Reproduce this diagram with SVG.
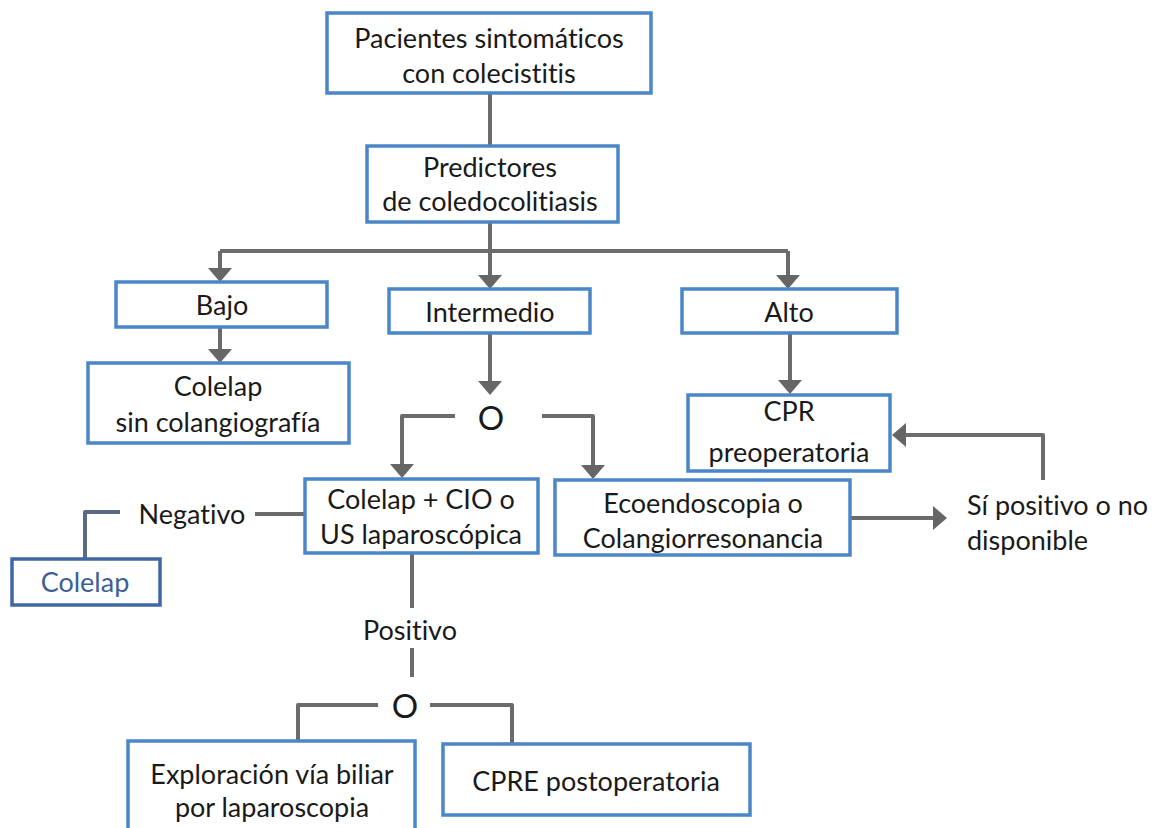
<svg xmlns="http://www.w3.org/2000/svg" width="1152" height="828" viewBox="0 0 1152 828">
<style>
.box{fill:#fff;stroke:#4a86c8;stroke-width:3.5}
.box2{fill:#fff;stroke:#3f67a0;stroke-width:3.5}
text{font-family:Lato,"Open Sans","Liberation Sans",sans-serif;font-size:27px;dominant-baseline:central;font-variant-ligatures:none;font-feature-settings:"liga" 0,"clig" 0}
.t{fill:#1a1a1a;text-anchor:middle}
.tl{fill:#1a1a1a}
.tb{fill:#3e5f96;text-anchor:middle}
.o{font-size:33px}
.c{fill:none;stroke:#6b6b6b;stroke-width:4;stroke-linejoin:round}
.cb{fill:none;stroke:#5a6a85;stroke-width:4;stroke-linejoin:round}
</style>
<defs>
<marker id="arr" viewBox="0 0 14 24" markerWidth="14" markerHeight="24" refX="4" refY="12" orient="auto" markerUnits="userSpaceOnUse">
<path d="M0,0 L14,12 L0,24 Z" fill="#666"/>
</marker>
</defs>
<rect width="1152" height="828" fill="#fff"/>
<g id="connectors">
<path class="c" d="M490,93 V146"/>
<path class="c" d="M490,222 V251"/>
<path class="c" d="M220,251 H788" />
<path class="c" d="M220,251 V272" marker-end="url(#arr)"/>
<path class="c" d="M490,251 V279" marker-end="url(#arr)"/>
<path class="c" d="M788,251 V279" marker-end="url(#arr)"/>
<path class="c" d="M220,327 V353" marker-end="url(#arr)"/>
<path class="c" d="M490,333 V385" marker-end="url(#arr)"/>
<path class="c" d="M790,333 V384" marker-end="url(#arr)"/>
<path class="c" d="M455,416 H402 V468" marker-end="url(#arr)"/>
<path class="c" d="M542,416 H593 V469" marker-end="url(#arr)"/>
<path class="c" d="M850,518 H937" marker-end="url(#arr)"/>
<path class="c" d="M1043,480 V435 H902" marker-end="url(#arr)"/>
<path class="c" d="M255,514 H305"/>
<path class="cb" d="M120,512 H85 V558"/>
<path class="c" d="M412,553 V608"/>
<path class="c" d="M412,648 V677"/>
<path class="c" d="M378,705 H298 V741"/>
<path class="c" d="M430,705 H512 V744"/>
</g>
<g id="n1"><rect class="box" x="327" y="13" width="324" height="80"/>
<text class="t" x="489" y="37">Pacientes sintomáticos</text><text class="t" x="489" y="72">con colecistitis</text></g>
<g id="n2"><rect class="box" x="367" y="146" width="251" height="76"/>
<text class="t" x="490" y="166">Predictores</text><text class="t" x="490" y="200">de coledocolitiasis</text></g>
<g id="bajo"><rect class="box" x="116" y="282" width="211" height="45"/>
<text class="t" x="222" y="304">Bajo</text></g>
<g id="intermedio"><rect class="box" x="389" y="289" width="201" height="44"/>
<text class="t" x="490" y="311">Intermedio</text></g>
<g id="alto"><rect class="box" x="682" y="289" width="215" height="44"/>
<text class="t" x="789" y="311">Alto</text></g>
<g id="colelapsin"><rect class="box" x="88" y="363" width="261" height="80"/>
<text class="t" x="218" y="385">Colelap</text><text class="t" x="218" y="421">sin colangiografía</text></g>
<g id="o1"><text class="t o" x="491" y="417">O</text></g>
<g id="cpr"><rect class="box" x="688" y="395" width="202" height="76"/>
<text class="t" x="789" y="410">CPR</text><text class="t" x="789" y="451">preoperatoria</text></g>
<g id="colelapcio"><rect class="box" x="305" y="479" width="233" height="74"/>
<text class="t" x="421" y="498">Colelap + CIO o</text><text class="t" x="421" y="533">US laparoscópica</text></g>
<g id="eco"><rect class="box" x="555" y="480" width="295" height="75"/>
<text class="t" x="703" y="502">Ecoendoscopia o</text><text class="t" x="703" y="537">Colangiorresonancia</text></g>
<g id="sipos"><text class="tl" x="967" y="504">Sí positivo o no</text><text class="tl" x="967" y="539">disponible</text></g>
<g id="negativo"><text class="t" x="192" y="513">Negativo</text></g>
<g id="colelap"><rect class="box2" x="12" y="559" width="148" height="46"/>
<text class="tb" x="85" y="581">Colelap</text></g>
<g id="positivo"><text class="t" x="410" y="629">Positivo</text></g>
<g id="o2"><text class="t o" x="405" y="705">O</text></g>
<g id="exploracion"><rect class="box" x="128" y="741" width="287" height="95"/>
<text class="t" x="272" y="773">Exploración vía biliar</text><text class="t" x="272" y="806">por laparoscopia</text></g>
<g id="cpre"><rect class="box" x="443" y="744" width="307" height="71"/>
<text class="t" x="596" y="780">CPRE postoperatoria</text></g>
</svg>
